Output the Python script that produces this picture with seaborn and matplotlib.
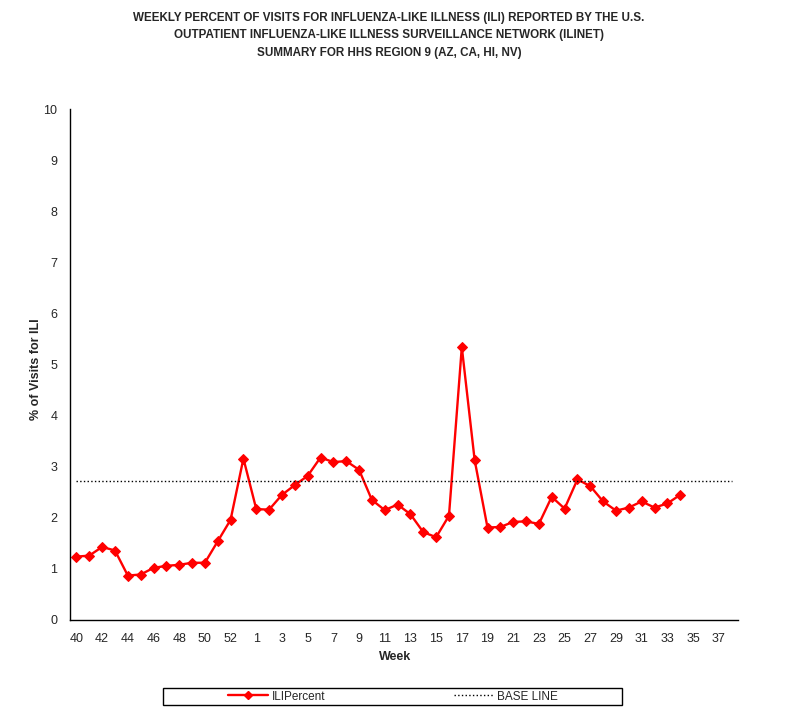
#!/usr/bin/env python3

import pandas as pd
import matplotlib
matplotlib.use("Agg")
import matplotlib.pyplot as plt
from matplotlib.patches import Rectangle
from matplotlib.lines import Line2D
import seaborn as sns

# Week labels on the category axis (2008 had a week 53)
weeks = list(range(40, 54)) + list(range(1, 39))

# Reported ILI percent, weeks 40..53 then 1..34
ili_percent = [1.24, 1.26, 1.43, 1.36, 0.87, 0.89, 1.02, 1.06, 1.08, 1.12,
               1.12, 1.54, 1.96, 3.16,
               2.17, 2.16, 2.45, 2.64, 2.82, 3.18, 3.09, 3.11, 2.94, 2.35,
               2.15, 2.26, 2.07, 1.72, 1.62, 2.04, 5.34, 3.13, 1.81, 1.82,
               1.92, 1.93, 1.88, 2.41, 2.18, 2.75, 2.62, 2.32, 2.14, 2.20,
               2.32, 2.20, 2.28, 2.45]

baseline = 2.72

title = ("WEEKLY PERCENT OF VISITS FOR INFLUENZA-LIKE ILLNESS (ILI) REPORTED BY THE U.S.\n"
         "OUTPATIENT INFLUENZA-LIKE ILLNESS SURVEILLANCE NETWORK (ILINET)\n"
         "SUMMARY FOR HHS REGION 9 (AZ, CA, HI, NV)")

sns.set_theme(style="white")
plt.rcParams['font.family'] = ['Liberation Sans', 'DejaVu Sans']

df = pd.DataFrame({'pos': range(len(ili_percent)), 'ili': ili_percent})

fig = plt.figure(figsize=(8.01, 7.15), dpi=100)
ax = fig.add_axes([70 / 801, 1 - 620 / 715, 668 / 801, 511 / 715])

sns.lineplot(data=df, x='pos', y='ili', ax=ax, color='#FF0000', linewidth=1.7,
             marker='D', markersize=5, markeredgecolor='#FF0000')
ax.hlines(baseline, 0, len(weeks) - 1, colors='black', linestyles=':', linewidth=1.0)

# Category axis: ticks at boundaries, labels on every other week
ax.set_xlim(-0.5, len(weeks) - 0.5)
ax.set_xticks([i - 0.5 for i in range(len(weeks) + 1)], minor=True)
ax.set_xticks(range(0, len(weeks), 2))
ax.set_xticklabels([str(weeks[i]) for i in range(0, len(weeks), 2)], fontsize=9)
ax.tick_params(axis='x', which='major', length=0, pad=9)
ax.tick_params(axis='x', which='minor', length=5, width=1, color='black', direction='out')

ax.set_ylim(0, 10)
ax.set_yticks(range(0, 11))
ax.tick_params(axis='y', length=5, width=1, color='black', direction='out', labelsize=9, pad=4)

for side in ['top', 'right']:
    ax.spines[side].set_visible(False)
for side in ['left', 'bottom']:
    ax.spines[side].set_color('black')
    ax.spines[side].set_linewidth(1)

ax.set_xlabel('Week', fontsize=9, fontweight='bold')
ax.xaxis.set_label_coords((395 - 70) / 668, -0.06)
ax.set_ylabel('% of Visits for ILI', fontsize=9, fontweight='bold')
ax.yaxis.set_label_coords(-0.042, 0.49)

fig.text(389 / 801, 1 - 12 / 715, title, ha='center', va='top', fontsize=8.4,
         fontweight='bold', linespacing=1.6,
         family=['Liberation Sans Narrow', 'Liberation Sans'])

# Legend box
fig.patches.append(Rectangle((163 / 801, 1 - 705 / 715), 459 / 801, 17 / 715,
                             transform=fig.transFigure, fill=False,
                             edgecolor='black', linewidth=1))
handles = [Line2D([], [], color='#FF0000', linewidth=1.7, marker='D', markersize=4),
           Line2D([], [], color='black', linestyle=':', linewidth=1.0)]
fig.legend(handles, ['ILIPercent', 'BASE LINE'], loc='center',
           bbox_to_anchor=(393 / 801, 1 - 696.5 / 715), ncol=2, frameon=False,
           fontsize=8.5, handlelength=3.4, handletextpad=0.3, columnspacing=10.9,
           borderpad=0, borderaxespad=0)

fig.savefig('out.png', dpi=100)
plt.close(fig)
